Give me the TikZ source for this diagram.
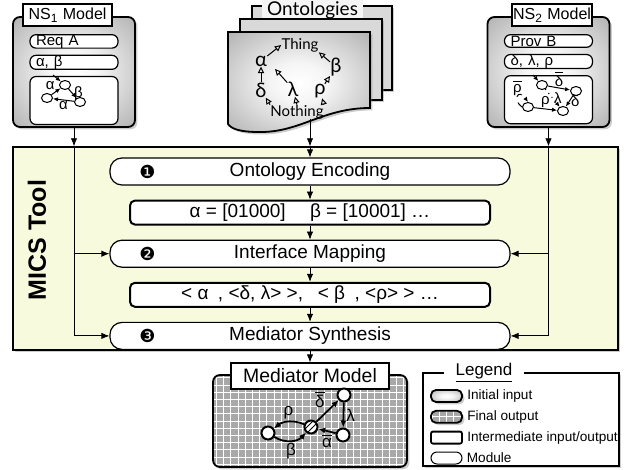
\documentclass[tikz,border=0pt]{standalone}
\usepackage{fontspec}
\setmainfont{Liberation Sans}
\newfontfamily\ontofont{Lato}
\newfontfamily\symfont{DejaVu Sans}
\usetikzlibrary{positioning, calc, shadows, arrows.meta, patterns, shapes.geometric}
\definecolor{micsbg}{RGB}{247,250,220}
\pgfdeclareradialshading{inputshade}{\pgfpoint{0bp}{0bp}}{color(0bp)=(white); color(10bp)=(gray!8); color(50bp)=(gray!90)}
\newcommand{\negsym}[1]{\ensuremath{\overline{\mbox{#1}}}}

\begin{document}
\begin{tikzpicture}[
    x=0.5pt, y=-0.5pt,
    font=\fontsize{9.5}{11}\selectfont,
    >={Latex[length=4pt, width=3.2pt]},
    boxshadow/.style={drop shadow={shadow xshift=1.2pt, shadow yshift=-1.2pt, opacity=0.4}},
    module/.style={draw, line width=0.6pt, fill=white, rounded corners=6pt, minimum width=200pt, minimum height=13.5pt, inner sep=0pt},
    interm/.style={draw, line width=1pt, fill=white, rounded corners=2.5pt, minimum width=180pt, minimum height=12pt, inner sep=0pt},
    initbox/.style={draw, line width=0.9pt, rounded corners=3.5pt, shading=inputshade, boxshadow, minimum width=61pt, minimum height=55pt},
    finalbox/.style={draw, line width=0.9pt, rounded corners=3.5pt, fill=gray!68, boxshadow,
        path picture={\draw[white, line width=0.4pt, step=3.6pt] (path picture bounding box.south west) grid (path picture bounding box.north east);}},
    titletab/.style={draw, line width=0.6pt, fill=white, inner sep=0pt, minimum height=11pt, font=\fontsize{8}{9}\selectfont},
    pill/.style={draw, line width=0.6pt, fill=white, rounded corners=3pt, minimum width=44pt, minimum height=6.3pt, inner sep=0pt, text width=38pt, align=left, font=\fontsize{7.5}{8}\selectfont},
    graphbox/.style={draw, line width=0.6pt, fill=white, rounded corners=3pt, minimum width=44pt, minimum height=24pt},
    nsstate/.style={draw, ellipse, line width=0.5pt, fill=white, minimum width=5.5pt, minimum height=4.5pt, inner sep=0pt},
    nsarrow/.style={->, >={Latex[length=2.5pt, width=2.2pt]}, line width=0.5pt},
    lbl/.style={inner sep=0.5pt, font=\fontsize{7.5}{7.5}\selectfont},
    medstate/.style={draw, circle, line width=1pt, fill=white, minimum size=6.5pt, inner sep=0pt},
    medarrow/.style={->, >={Latex[length=3.5pt, width=3pt]}, line width=0.9pt},
    medlbl/.style={inner sep=1pt, font=\fontsize{8.5}{9}\selectfont},
    ontolbl/.style={inner sep=0pt, font=\ontofont\fontsize{10}{10}\selectfont},
    ontoarrow/.style={-{Triangle[open, length=3.2pt, width=3pt]}, line width=0.5pt},
    bullet/.style={inner sep=0pt, font=\symfont\fontsize{9}{9}\selectfont},
    legicon/.style={minimum width=15.5pt, minimum height=6pt, inner sep=0pt},
    legtext/.style={inner sep=0pt, font=\fontsize{6.8}{7}\selectfont}
]
\useasboundingbox (0,0) rectangle (632,470);

% MICS tool
\node[draw, line width=0.7pt, fill=micsbg, boxshadow, minimum width=302.5pt, minimum height=101.5pt] (mics) at (315.5,248.5) {};
\node[rotate=90, font=\bfseries\fontsize{12.5}{13}\selectfont] (mics_label) at (37,240) {MICS Tool};

\node[module] (enc) at (310,171.5) {Ontology Encoding};
\node[interm, below=7pt of enc] (code) {α = [01000]\quad\ β = [10001] …};
\node[module, below=7pt of code] (map) {Interface Mapping};
\node[interm, below=7pt of map] (pairs) {< α\enspace, <δ, λ> >,\enspace\ < β\enspace, <ρ> > …};
\node[module, below=7pt of pairs] (synth) {Mediator Synthesis};

\node[bullet] (num1) at ([xshift=19pt]enc.west) {❶};
\node[bullet] (num2) at ([xshift=19pt]map.west) {❷};
\node[bullet] (num3) at ([xshift=19pt]synth.west) {❸};

% NS1 model
\node[initbox] (ns1) at (74,72) {};
\node[titletab, minimum width=44.5pt] (ns1_tab) at (67.5,15) {NS\textsubscript{1} Model};
\node[pill, below=9pt of ns1.north] (ns1_req) {Req A};
\node[pill, below=3pt of ns1_req] (ns1_act) {α, β};
\node[graphbox, below=3pt of ns1_act] (ns1_graph) {};

\node[nsstate] (s1) at (65,85) {};
\node[nsstate] (s2) at (47,98) {};
\node[nsstate] (s3) at (80,102) {};
\coordinate (s1_init) at (53,75);
\draw[nsarrow] (s1_init) -- (s1);
\draw[nsarrow] (s1) -- node[right, lbl] {β} (s3);
\draw[nsarrow] (s3) -- node[below, lbl] {α} (s2);
\draw[nsarrow] (s2) -- node[above left, lbl] {α} (s1);

% NS2 model
\node[initbox] (ns2) at (548.5,72) {};
\node[titletab, minimum width=40pt] (ns2_tab) at (552,15) {NS\textsubscript{2} Model};
\node[pill, below=9pt of ns2.north] (ns2_prov) {Prov B};
\node[pill, below=3pt of ns2_prov] (ns2_act) {δ, λ, ρ};
\node[graphbox, below=3pt of ns2_act] (ns2_graph) {};

\node[nsstate] (n1) at (542,85) {};
\node[nsstate] (n2) at (576,91) {};
\node[nsstate] (n3) at (528,107) {};
\node[nsstate] (n4) at (563,111) {};
\coordinate (n1_init) at (533,75);
\draw[nsarrow] (n1_init) -- (n1);
\draw[nsarrow] (n1) -- node[above, lbl] {\negsym{δ}} (n2);
\draw[nsarrow, dashed] (n3.west) .. controls (512,100) and (518,88) .. node[above, lbl] {\negsym{ρ}} (n3.north);
\draw[nsarrow] (n3) -- node[above, lbl] {ρ} (n4);
\draw[nsarrow, dotted] (n1) -- node[right, lbl] {λ} (n4);
\draw[nsarrow] (n2) -- node[right, lbl] {δ} (n4);

% ontologies
\draw[line width=0.8pt, fill=gray!30, boxshadow] (252,6) rectangle (392,90);
\node[fill=gray!8, inner sep=0pt, minimum width=50.5pt, minimum height=10pt, font=\ontofont\fontsize{9.5}{10}\selectfont] (onto_title) at (312.5,10) {Ontologies};
\draw[line width=0.8pt, fill=gray!30, boxshadow] (240,19) rectangle (382,100);
\draw[line width=0.9pt, shading=inputshade, boxshadow] (228,32) -- (370,32) -- (370,108)
    .. controls (322,108) and (300,133) .. (258,132)
    .. controls (241,132) and (231,129) .. (228,124) -- cycle;

\node[ontolbl, font=\ontofont\fontsize{7.5}{8}\selectfont] (thing) at (300,45) {Thing};
\node[ontolbl] (onto_alpha) at (261,61) {α};
\node[ontolbl] (onto_delta) at (261,90) {δ};
\node[ontolbl] (onto_lambda) at (293,89) {λ};
\node[ontolbl] (onto_rho) at (320,91) {ρ};
\node[ontolbl] (onto_beta) at (336,67) {β};
\node[ontolbl, font=\ontofont\fontsize{7.5}{8}\selectfont] (nothing) at (297,112) {Nothing};
\coordinate (onto_lambda_tip) at (275,69);

\draw[ontoarrow] (onto_delta) -- (onto_alpha);
\draw[ontoarrow] (onto_alpha) -- (thing.west);
\draw[ontoarrow] (onto_beta) -- (thing.south east);
\draw[ontoarrow] (onto_rho) -- (onto_beta);
\draw[ontoarrow] (nothing.north east) -- (onto_rho);
\draw[ontoarrow] (nothing.north) -- (onto_lambda);
\draw[ontoarrow] (onto_lambda) -- (onto_lambda_tip);
\draw[ontoarrow] (nothing.north west) -- (onto_delta);

% connections
\draw[->] (nothing.south -| enc.north) -- (enc.north |- mics.north);
\draw[->] (enc.north |- mics.north) -- (enc.north);
\draw[->] (enc) -- (code);
\draw[->] (code) -- (map);
\draw[->] (map) -- (pairs);
\draw[->] (pairs) -- (synth);

\draw[->] (ns1.south) -- (ns1.south |- mics.north);
\draw[->] (ns1.south |- mics.north) |- (map.west);
\draw[->] (ns1.south |- mics.north) |- (synth.west);
\draw[->] (ns2.south) -- (ns2.south |- mics.north);
\draw[->] (ns2.south |- mics.north) |- (map.east);
\draw[->] (ns2.south |- mics.north) |- (synth.east);

% mediator model
\node[finalbox, minimum width=97pt, minimum height=46pt] (med) at (310,421) {};
\node[titletab, minimum width=79pt, minimum height=13pt, font=\fontsize{9.7}{11}\selectfont] (med_tab) at (310,376) {Mediator Model};
\draw[->] (synth) -- (med_tab);

\node[medstate] (m1) at (268,433) {};
\node[medstate, postaction={pattern=north east lines}] (m2) at (311,427) {};
\node[medstate] (m3) at (344,395) {};
\node[medstate] (m4) at (343,435) {};
\draw[medarrow] (m1) to[bend right=40] node[below, medlbl] {β} (m2);
\draw[medarrow] (m2) to[bend right=30] node[above, medlbl] {ρ} (m1);
\draw[medarrow] (m4) -- node[below, medlbl] {\negsym{α}} (m2);
\draw[medarrow] (m2) -- node[above left, medlbl] {\negsym{δ}} (m3);
\draw[medarrow] (m3) -- node[right, medlbl] {λ} (m4);

% legend
\node[draw, line width=0.6pt, fill=white, boxshadow, minimum width=98pt, minimum height=46.5pt] (legend) at (521,419.5) {};
\node[fill=white, inner xsep=6pt, inner ysep=1pt, font=\fontsize{8.5}{9}\selectfont] (legend_title) at (484,373) {\underline{Legend}};

\node[initbox, legicon, rounded corners=2.5pt] (leg_init) at (446.5,396) {};
\node[finalbox, legicon, rounded corners=2.5pt, below=3.5pt of leg_init] (leg_final) {};
\node[draw, legicon, line width=0.9pt, fill=white, rounded corners=1pt, below=3.5pt of leg_final] (leg_interm) {};
\node[draw, legicon, line width=0.5pt, fill=white, rounded corners=3pt, below=3.5pt of leg_interm] (leg_module) {};

\node[legtext, right=2pt of leg_init] (leg_init_text) {Initial input};
\node[legtext, right=2pt of leg_final] (leg_final_text) {Final output};
\node[legtext, right=2pt of leg_interm] (leg_interm_text) {Intermediate input/output};
\node[legtext, right=2pt of leg_module] (leg_module_text) {Module};

\end{tikzpicture}
\end{document}
